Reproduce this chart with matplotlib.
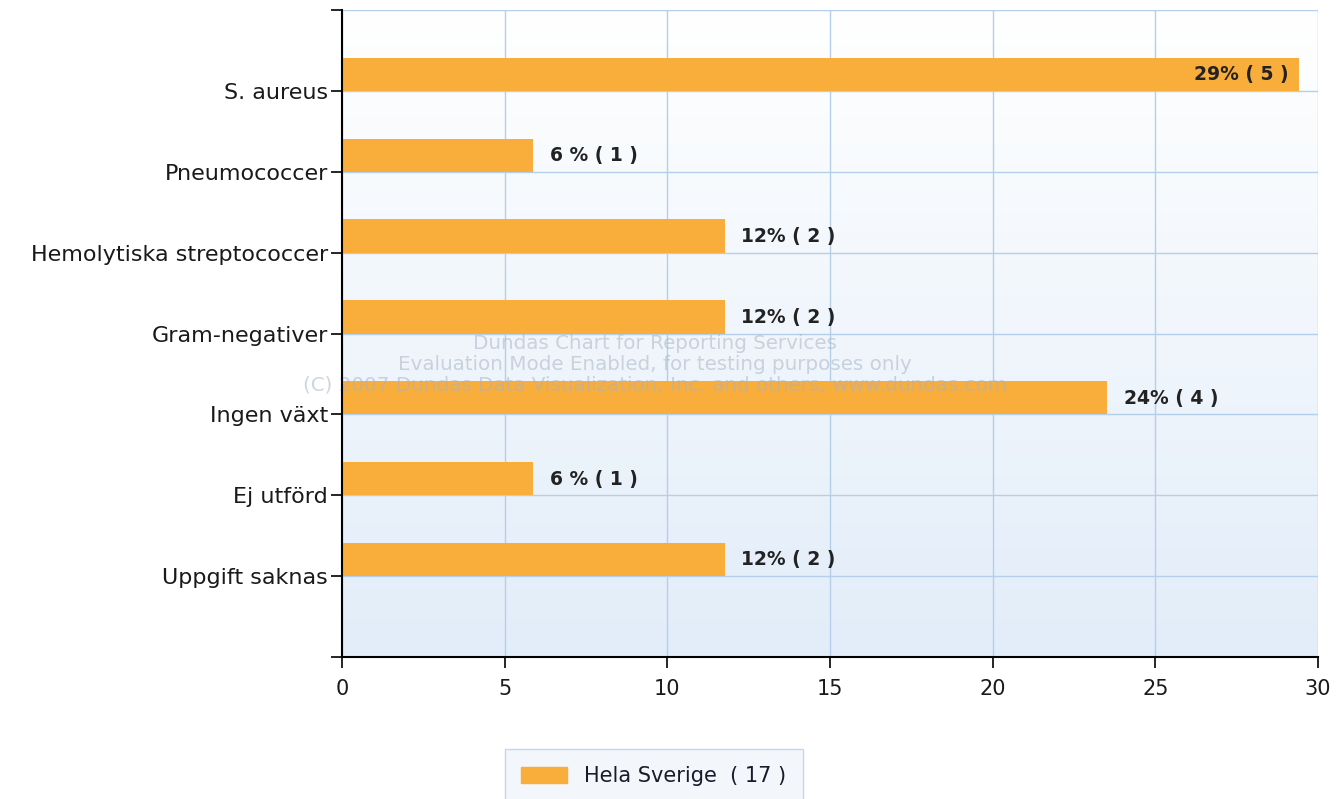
import numpy as np
import matplotlib.pyplot as plt
from matplotlib.patches import Patch
from matplotlib.colors import LinearSegmentedColormap

plt.rcParams['font.family'] = ['DejaVu Sans']

kategorier = ['S. aureus', 'Pneumococcer', 'Hemolytiska streptococcer', 'Gram-negativer',
              'Ingen växt', 'Ej utförd', 'Uppgift saknas']
antal = [5, 1, 2, 2, 4, 1, 2]
totalt = 17
procent = [100.0 * a / totalt for a in antal]
etiketter = ['29% ( 5 )', '6 % ( 1 )', '12% ( 2 )', '12% ( 2 )', '24% ( 4 )', '6 % ( 1 )', '12% ( 2 )']

orange = '#F9AD3A'
gridfarg = '#B4CFEA'

fig = plt.figure(figsize=(13.39, 7.99), dpi=100)
ax = fig.add_axes([0.2554, 0.1777, 0.7289, 0.8098])

# bakgrund med gradient
grad = np.linspace(0, 1, 256).reshape(-1, 1)
cmap = LinearSegmentedColormap.from_list('bg', ['#E2EDF9', '#FFFFFF'])
ax.imshow(grad, aspect='auto', cmap=cmap, extent=[0, 30, 0, 8], origin='lower', zorder=0)

ypos = np.arange(len(kategorier), 0, -1)
ax.barh(ypos, procent, height=0.41, align='edge', color=orange, zorder=3)

for y, p, txt in zip(ypos, procent, etiketter):
    if p > 28:
        ax.text(p - 0.3, y + 0.2, txt, ha='right', va='center', fontsize=13.5,
                fontweight='bold', color='#222222', zorder=4)
    else:
        ax.text(p + 0.5, y + 0.2, txt, ha='left', va='center', fontsize=13.5,
                fontweight='bold', color='#222222', zorder=4)

ax.set_xlim(0, 30)
ax.set_ylim(0, 8)
ax.set_xticks(range(0, 31, 5))
ax.set_yticks(range(0, 9))
ax.set_yticklabels([''] + kategorier[::-1] + [''])
ax.tick_params(axis='both', labelsize=15, length=8, width=1.2, color='black',
               labelcolor='#1a1a1a')
ax.tick_params(axis='x', pad=8)
ax.tick_params(axis='y', pad=2, labelsize=16)
ax.grid(True, color=gridfarg, linewidth=1, zorder=1)
for s in ['top', 'right']:
    ax.spines[s].set_visible(False)
for s in ['left', 'bottom']:
    ax.spines[s].set_linewidth(1.5)
    ax.spines[s].set_zorder(5)

# vattenmärke
ax.text(0.321, 0.452, 'Dundas Chart for Reporting Services\n'
        'Evaluation Mode Enabled, for testing purposes only\n'
        '(C) 2007 Dundas Data Visualization, Inc. and others, www.dundas.com',
        transform=ax.transAxes, ha='center', va='center', fontsize=14.3,
        color='#A8B4C4', alpha=0.55, linespacing=1.12, zorder=4)

leg = fig.legend(handles=[Patch(color=orange, label='Hela Sverige  ( 17 )')],
                 loc='upper left', bbox_to_anchor=(0.377, 0.062), fontsize=15,
                 frameon=True, fancybox=False, handlelength=2.2, handleheight=0.8,
                 borderpad=0.8, borderaxespad=0, labelcolor='#1a1a2a')
leg.get_frame().set_edgecolor('#B4CFEA')
leg.get_frame().set_facecolor('#F0F6FC')

fig.savefig('out.png', dpi=100)
